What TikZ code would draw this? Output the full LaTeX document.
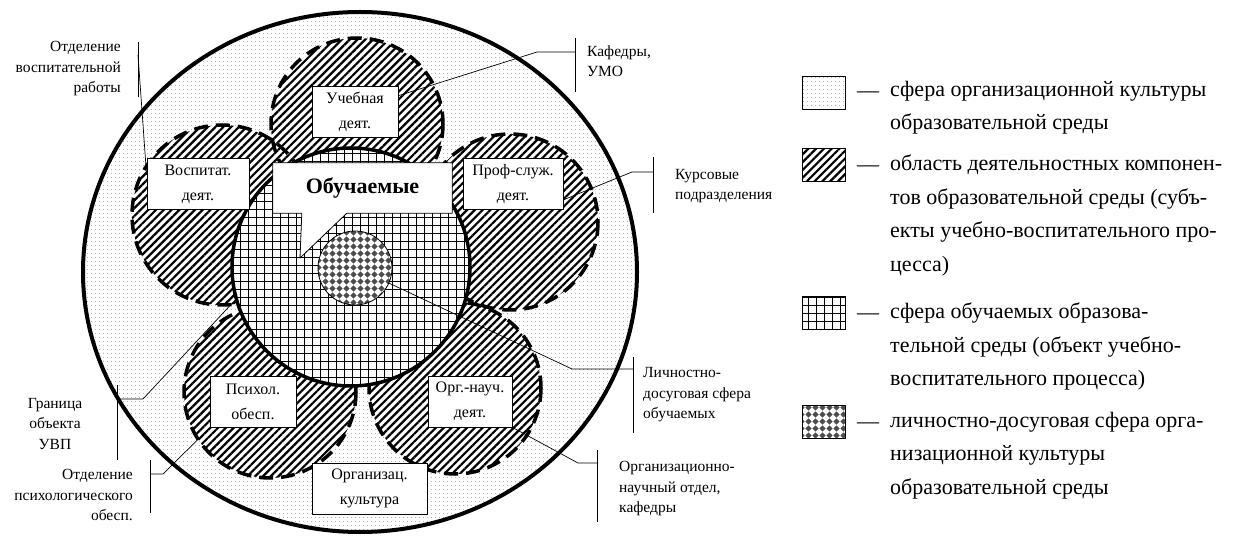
\documentclass[tikz,border=0pt]{standalone}
\usepackage{fontspec}
\setmainfont{Liberation Serif}
\usetikzlibrary{patterns.meta}

\tikzdeclarepattern{
  name=Rhombs,
  type=uncolored,
  bottom left={(-.5pt,-.5pt)},
  top right={(7.5pt,7.5pt)},
  tile size={(7pt,7pt)},
  code={\fill (3.5pt,0.3pt) -- (6.7pt,3.5pt) -- (3.5pt,6.7pt) -- (0.3pt,3.5pt) -- cycle;}
}

\begin{document}
\begin{tikzpicture}[x=1pt, y=-1pt, line join=round,
    dotted area/.style={preaction={fill=white}, pattern={Dots[radius=0.55pt,distance=4pt]}, pattern color=black!50},
    hatched/.style={preaction={fill=white}, pattern={Lines[angle=45,distance=5.5pt,line width=2.2pt]}},
    gridded/.style={preaction={fill=white}, pattern={Hatch[distance=8pt,line width=0.6pt]}},
    rhombed/.style={preaction={fill=white}, pattern=Rhombs, pattern color=black!70},
    petal/.style={line width=3.5pt, dash pattern=on 14pt off 8pt},
    lbox/.style={draw, fill=white, line width=0.8pt, align=center, inner sep=0pt, minimum height=51pt, font=\fontsize{16}{25}\selectfont},
    note/.style={inner sep=0pt, font=\fontsize{15.5}{20.5}\selectfont},
    bar/.style={line width=0.8pt},
    lead/.style={line width=0.7pt},
    key/.style={draw, line width=0.8pt, minimum width=43pt, minimum height=33pt, inner sep=0pt},
    keytext/.style={anchor=north west, inner sep=0pt, align=left, font=\fontsize{22}{33.5}\selectfont}
  ]
  \useasboundingbox (0,0) rectangle (1256,537);

  \draw[dotted area, line width=4pt] (360,272) ellipse [x radius=277, y radius=260];
  \foreach \cx/\cy/\r in {357/124/86, 222/215/90, 510/222/88, 270/392/86, 455/388/86}
    \path[hatched] (\cx,\cy) circle [radius=\r];
  \foreach \cx/\cy/\r in {357/124/86, 222/215/90, 510/222/88, 270/392/86, 455/388/86}
    \draw[petal] (\cx,\cy) circle [radius=\r];

  \node[circle, draw, gridded, line width=3.5pt, minimum size=238pt, inner sep=0pt] (sfera) at (351,267) {};
  \node[circle, draw, rhombed, line width=0.8pt, minimum size=74pt, inner sep=0pt] (lich) at (355,268) {};

  \node[lbox, minimum width=86pt] (ucheb) at (355,111.5) {Учебная\\деят.};
  \node[lbox, minimum width=102pt] (vosp) at (198,184) {Воспитат.\\деят.};
  \node[lbox, minimum width=100pt] (prof) at (513,183.5) {Проф-служ.\\деят.};
  \node[lbox, minimum width=86pt] (psych) at (253,402) {Психол.\\обесп.};
  \node[lbox, minimum width=84pt] (org) at (470,401.5) {Орг.-науч.\\деят.};
  \node[lbox, minimum width=115pt] (kult) at (369.5,488.5) {Организац.\\культура};

  \coordinate (obutip) at (300,258);
  \node[minimum width=179pt, minimum height=50pt, inner sep=0pt] (obu) at (362.5,188) {};
  \filldraw[fill=white, line width=0.8pt] (obu.north west) -- (obu.north east) -- (obu.south east)
    -- ([xshift=74pt]obu.south west) -- (obutip) -- ([xshift=29pt]obu.south west) -- (obu.south west) -- cycle;
  \node[font=\bfseries\fontsize{22}{24}\selectfont] (obutext) at (obu) {Обучаемые};

  \node[note, align=right, anchor=east] (vospnote) at (121,69) {Отделение\\воспитательной\\работы};
  \node[note, align=center] (granote) at (55,424) {Граница\\объекта\\УВП};
  \node[note, align=right, anchor=east] (psnote) at (133,495) {Отделение\\психологического\\обесп.};
  \node[note, align=left, anchor=west] (kafnote) at (587,61) {Кафедры,\\УМО};
  \node[note, align=left, anchor=west] (kursnote) at (675,186) {Курсовые\\подразделения};
  \node[note, align=left, anchor=west] (lichnote) at (643,395) {Личностно-\\досуговая сфера\\обучаемых};
  \node[note, align=left, anchor=west] (orgnote) at (619,489) {Организационно-\\научный отдел,\\кафедры};

  \coordinate (vospj) at (138,55);
  \coordinate (kafj) at (575,52);
  \coordinate (kursj) at (653,172);
  \coordinate (lichj) at (633,369);
  \coordinate (orgj) at (597,463);
  \coordinate (graj) at (117,399);
  \coordinate (psj) at (150,474);

  \draw[bar] ([yshift=13pt]vospj) -- ([yshift=-42pt]vospj);
  \draw[bar] ([yshift=14pt]kafj) -- ([yshift=-40pt]kafj);
  \draw[bar] ([yshift=15pt]kursj) -- ([yshift=-41pt]kursj);
  \draw[bar] ([yshift=12pt]lichj) -- ([yshift=-64pt]lichj);
  \draw[bar] ([yshift=13pt]orgj) -- ([yshift=-59pt]orgj);
  \draw[bar] ([yshift=14pt]graj) -- ([yshift=-61pt]graj);
  \draw[bar] ([yshift=14pt]psj) -- ([yshift=-39pt]psj);

  \draw[lead] (vospj) -- (vosp.170);
  \draw[lead] (kafj) -- ++(-38,0) -- (ucheb.20);
  \draw[lead] (kursj) -- ++(-21,0) -- (prof.-18);
  \draw[lead] (lichj) -- ++(-61,0) -- (lich.-24);
  \draw[lead] (orgj) -- ++(-19,0) -- (org.south east);
  \draw[lead] (graj) -- ++(26,0) -- (sfera.196);
  \draw[lead] (psj) -- ++(13,0) -- (psych.south west);

  \node[key, dotted area] (key1) at (824,93) {};
  \node[key, hatched] (key2) at (824,165) {};
  \node[key, gridded] (key3) at (824,313) {};
  \node[key, rhombed] (key4) at (824,422) {};
  \node[keytext, anchor=west] (dash1) at (857,95) {—};
  \node[keytext, anchor=west] (dash2) at (857,169) {—};
  \node[keytext, anchor=west] (dash3) at (857,317) {—};
  \node[keytext, anchor=west] (dash4) at (857,426) {—};
  \node[keytext] (text1) at (890,81) {сфера организационной культуры\\образовательной среды};
  \node[keytext] (text2) at (890,155) {область деятельностных компонен-\\тов образовательной среды (субъ-\\екты учебно-воспитательного про-\\цесса)};
  \node[keytext] (text3) at (890,303) {сфера обучаемых образова-\\тельной среды (объект учебно-\\воспитательного процесса)};
  \node[keytext] (text4) at (890,412) {личностно-досуговая сфера орга-\\низационной культуры\\образовательной среды};
\end{tikzpicture}
\end{document}
